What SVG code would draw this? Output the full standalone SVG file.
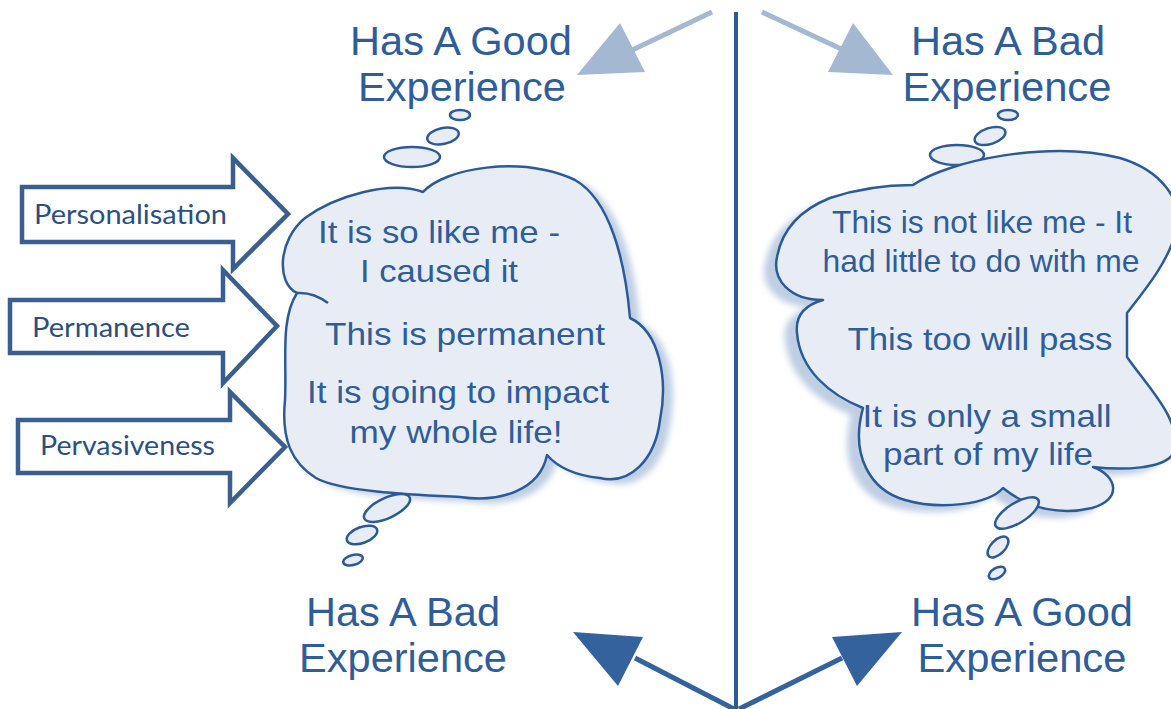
<svg xmlns="http://www.w3.org/2000/svg" width="1171" height="709" viewBox="0 0 1171 709">
  <defs>
    <filter id="soft" x="-10%" y="-10%" width="120%" height="120%">
      <feGaussianBlur stdDeviation="3"/>
    </filter>
    <style>
      .title { font-family: "Liberation Sans", Arial, sans-serif; font-size: 41px; fill: #2f5d99; text-anchor: middle; }
      .thought { font-family: "Liberation Sans", Arial, sans-serif; font-size: 32px; fill: #2f5d99; text-anchor: middle; }
      .tag { font-family: Lato, "Open Sans", sans-serif; font-size: 27px; fill: #2c4f80; }
      .cloud { fill: #e8edf5; stroke: #2c5a97; stroke-width: 2.5; stroke-linejoin: round; }
      .shadow { fill: #bfcee3; filter: url(#soft); }
      .bubble { fill: #e8edf5; stroke: #2c5a97; stroke-width: 2.5; }
      .block { fill: #ffffff; stroke: #3a5f8f; stroke-width: 4.5; stroke-linejoin: miter; }
      .light { stroke: #a4b8d2; stroke-width: 5; fill: none; }
      .lighthead { fill: #a4b8d2; }
      .dark { stroke: #33629c; stroke-width: 5; fill: none; }
      .darkhead { fill: #33629c; }
    </style>
  </defs>

  <rect width="1171" height="709" fill="#ffffff"/>

  <!-- divider and direction arrows -->
  <g id="connectors">
    <line x1="736" y1="12" x2="736" y2="709" stroke="#2d5b96" stroke-width="4"/>
    <line class="light" x1="712" y1="12" x2="626" y2="53"/>
    <polygon class="lighthead" points="577,75 620,23 645,72"/>
    <line class="light" x1="762" y1="12" x2="852" y2="54"/>
    <polygon class="lighthead" points="853,23 828,72 893,75"/>
    <line class="dark" x1="734" y1="709" x2="635" y2="658"/>
    <polygon class="darkhead" points="573,632 643,637 618,686"/>
    <line class="dark" x1="739" y1="709" x2="842" y2="658"/>
    <polygon class="darkhead" points="832,637 902,632 857,686"/>
  </g>

  <!-- headings -->
  <g id="top-good">
    <text class="title" x="461" y="55" textLength="222" lengthAdjust="spacingAndGlyphs">Has A Good</text>
    <text class="title" x="462" y="101" textLength="208" lengthAdjust="spacingAndGlyphs">Experience</text>
  </g>
  <g id="top-bad">
    <text class="title" x="1008" y="55" textLength="194" lengthAdjust="spacingAndGlyphs">Has A Bad</text>
    <text class="title" x="1007" y="101" textLength="209" lengthAdjust="spacingAndGlyphs">Experience</text>
  </g>
  <g id="bottom-bad">
    <text class="title" x="403" y="626" textLength="194" lengthAdjust="spacingAndGlyphs">Has A Bad</text>
    <text class="title" x="403" y="672" textLength="208" lengthAdjust="spacingAndGlyphs">Experience</text>
  </g>
  <g id="bottom-good">
    <text class="title" x="1022" y="626" textLength="222" lengthAdjust="spacingAndGlyphs">Has A Good</text>
    <text class="title" x="1022" y="672" textLength="209" lengthAdjust="spacingAndGlyphs">Experience</text>
  </g>

  <!-- pessimistic thought cloud -->
  <g id="cloud-pessimistic">
    <ellipse class="bubble" cx="460" cy="115" rx="10" ry="5"/>
    <ellipse class="bubble" cx="443" cy="136" rx="16" ry="8" transform="rotate(-12 443 136)"/>
    <ellipse class="bubble" cx="412" cy="157" rx="28" ry="10"/>
    <path class="shadow" transform="translate(10 5)" d="M297,293 C276,283 278,240 305,218 C335,196 390,180 423,192 C445,168 520,155 575,180 C610,200 625,260 630,318 C660,332 668,380 660,420 C655,460 630,485 600,478 C580,476 560,470 547,455 C540,490 500,503 460,497 C420,495 340,492 316,478 C292,463 281,440 285,400 C287,360 280,320 297,293 Z"/>
    <path class="cloud" d="M297,293 C276,283 278,240 305,218 C335,196 390,180 423,192 C445,168 520,155 575,180 C610,200 625,260 630,318 C660,332 668,380 660,420 C655,460 630,485 600,478 C580,476 560,470 547,455 C540,490 500,503 460,497 C420,495 340,492 316,478 C292,463 281,440 285,400 C287,360 280,320 297,293 Z"/>
    <path d="M297,293 C310,292 320,297 328,303" fill="none" stroke="#2c5a97" stroke-width="2.5"/>
    <ellipse class="bubble" cx="387" cy="508" rx="25" ry="10" transform="rotate(-25 387 508)"/>
    <ellipse class="bubble" cx="362" cy="535" rx="16" ry="8" transform="rotate(-20 362 535)"/>
    <ellipse class="bubble" cx="353" cy="560" rx="10" ry="5" transform="rotate(-15 353 560)"/>
    <text class="thought" x="439" y="243" textLength="242" lengthAdjust="spacingAndGlyphs">It is so like me -</text>
    <text class="thought" x="439" y="282" textLength="158" lengthAdjust="spacingAndGlyphs">I caused it</text>
    <text class="thought" x="465" y="345" textLength="280" lengthAdjust="spacingAndGlyphs">This is permanent</text>
    <text class="thought" x="458" y="403" textLength="302" lengthAdjust="spacingAndGlyphs">It is going to impact</text>
    <text class="thought" x="456" y="443" textLength="213" lengthAdjust="spacingAndGlyphs">my whole life!</text>
  </g>

  <!-- optimistic thought cloud -->
  <g id="cloud-optimistic">
    <ellipse class="bubble" cx="1008" cy="115" rx="10" ry="5"/>
    <ellipse class="bubble" cx="990" cy="136" rx="16" ry="8" transform="rotate(-18 990 136)"/>
    <ellipse class="bubble" cx="957" cy="155" rx="27" ry="10"/>
    <path class="shadow" transform="translate(-12 7)" d="M913,185 C950,160 1050,140 1120,158 C1160,170 1185,200 1176,232 C1168,262 1145,290 1127,313 L1127,357 C1150,390 1182,420 1174,452 C1166,470 1120,470 1093,467 C1118,476 1122,500 1092,508 C1062,515 1030,510 1003,488 C988,505 940,510 905,500 C870,490 850,455 863,408 C830,395 800,370 797,333 C795,315 805,305 823,300 C790,300 772,280 777,257 C782,230 800,210 830,198 C860,188 890,185 913,185 Z"/>
    <path class="cloud" d="M913,185 C950,160 1050,140 1120,158 C1160,170 1185,200 1176,232 C1168,262 1145,290 1127,313 L1127,357 C1150,390 1182,420 1174,452 C1166,470 1120,470 1093,467 C1118,476 1122,500 1092,508 C1062,515 1030,510 1003,488 C988,505 940,510 905,500 C870,490 850,455 863,408 C830,395 800,370 797,333 C795,315 805,305 823,300 C790,300 772,280 777,257 C782,230 800,210 830,198 C860,188 890,185 913,185 Z"/>
    <ellipse class="bubble" cx="1017" cy="513" rx="25" ry="10" transform="rotate(-32 1017 513)"/>
    <ellipse class="bubble" cx="998" cy="547" rx="13" ry="7" transform="rotate(-45 998 547)"/>
    <ellipse class="bubble" cx="997" cy="573" rx="9" ry="5" transform="rotate(-30 997 573)"/>
    <text class="thought" x="982" y="233" textLength="300" lengthAdjust="spacingAndGlyphs">This is not like me - It</text>
    <text class="thought" x="981" y="272" textLength="317" lengthAdjust="spacingAndGlyphs">had little to do with me</text>
    <text class="thought" x="980" y="350" textLength="265" lengthAdjust="spacingAndGlyphs">This too will pass</text>
    <text class="thought" x="987" y="427" textLength="249" lengthAdjust="spacingAndGlyphs">It is only a small</text>
    <text class="thought" x="988" y="465" textLength="210" lengthAdjust="spacingAndGlyphs">part of my life</text>
  </g>

  <!-- explanatory style block arrows -->
  <g id="arrow-personalisation">
    <polygon class="block" points="22,187 233,187 233,158 288,214 233,269 233,242 22,242"/>
    <text class="tag" x="34" y="224" textLength="193" lengthAdjust="spacingAndGlyphs">Personalisation</text>
  </g>
  <g id="arrow-permanence">
    <polygon class="block" points="10,300 223,300 223,270 277,326 223,383 223,353 10,353"/>
    <text class="tag" x="32" y="337" textLength="158" lengthAdjust="spacingAndGlyphs">Permanence</text>
  </g>
  <g id="arrow-pervasiveness">
    <polygon class="block" points="18,420 230,420 230,392 285,447 230,503 230,473 18,473"/>
    <text class="tag" x="40" y="455" textLength="175" lengthAdjust="spacingAndGlyphs">Pervasiveness</text>
  </g>
</svg>
